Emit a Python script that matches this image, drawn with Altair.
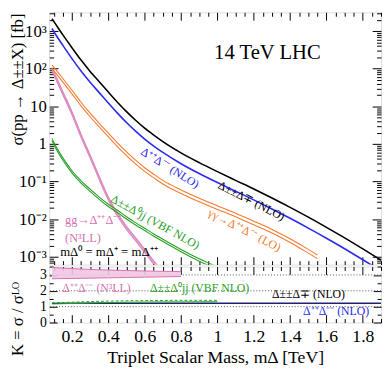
import altair as alt
import pandas as pd

# ---------------- data ----------------
mass = [0.09, 0.1, 0.15, 0.2, 0.25, 0.3, 0.35, 0.4, 0.45, 0.5, 0.55, 0.6, 0.65, 0.7,
        0.8, 0.9, 1.0, 1.1, 1.2, 1.3, 1.4, 1.5, 1.6, 1.7, 1.8, 1.9]
sigma_pm = [2138, 1820, 794, 363, 170, 85.1, 45.2, 24.0, 12.9, 7.24, 4.27, 2.63, 1.72, 1.16,
            0.582, 0.320, 0.184, 0.108, 0.0638, 0.0367, 0.0207, 0.0114, 0.0061, 0.0032,
            0.00164, 0.000822]
sigma_pp = [1175, 977, 417, 186, 87.1, 43.7, 23.2, 12.3, 6.61, 3.72, 2.19, 1.35, 0.881, 0.596,
            0.299, 0.164, 0.0944, 0.0556, 0.0327, 0.0188, 0.0106, 0.00582, 0.00313, 0.00164,
            0.000841, 0.000422]

mass_aa = [0.09, 0.1, 0.15, 0.2, 0.25, 0.3, 0.35, 0.4, 0.45, 0.5, 0.55, 0.6, 0.65, 0.7,
           0.8, 0.9, 1.0, 1.1, 1.2, 1.3, 1.4, 1.5, 1.55]
sigma_aa_hi = [126, 110, 55, 26.9, 12.9, 6.6, 3.55, 1.95, 1.07, 0.617, 0.372, 0.234, 0.157,
               0.108, 0.0603, 0.0363, 0.0229, 0.0145, 0.00891, 0.00537, 0.00302, 0.00158,
               0.00112]
sigma_aa_lo = [100, 88, 44, 21.5, 10.3, 5.3, 2.84, 1.56, 0.856, 0.494, 0.298, 0.187, 0.126,
               0.0866, 0.0482, 0.029, 0.0183, 0.0116, 0.0071, 0.0043, 0.00242, 0.00126,
               0.0009]

mass_vbf = [0.09, 0.1, 0.15, 0.2, 0.25, 0.3, 0.35, 0.4, 0.45, 0.5, 0.55, 0.6, 0.65, 0.7,
            0.8, 0.9, 1.0]
sigma_vbf_hi = [1.41, 1.12, 0.427, 0.195, 0.105, 0.063, 0.0389, 0.0251, 0.0174, 0.0117,
                0.00813, 0.00575, 0.00407, 0.00295, 0.00158, 0.00089, 0.000537]
sigma_vbf_lo = [1.23, 0.97, 0.37, 0.17, 0.091, 0.055, 0.0338, 0.0218, 0.0151, 0.0102,
                0.00707, 0.0050, 0.00354, 0.00257, 0.00137, 0.00077, 0.000467]

mass_gg = [0.09, 0.1, 0.15, 0.2, 0.25, 0.3, 0.35, 0.4, 0.45, 0.5, 0.55, 0.6, 0.65, 0.7,
           0.75, 0.8]
sigma_gg_hi = [107, 85, 25.1, 7.4, 1.86, 0.524, 0.141, 0.0398, 0.0151, 0.0066, 0.0033,
               0.00162, 0.0008, 0.0004, 0.00021, 0.000112]
sigma_gg_lo = [85, 67.5, 19.9, 5.9, 1.48, 0.417, 0.112, 0.0316, 0.012, 0.00525, 0.00263,
               0.00129, 0.00063, 0.000316, 0.000166, 0.000089]

k_mass_gg = [0.09, 0.2, 0.3, 0.4, 0.5, 0.6, 0.7, 0.8]
k_gg_lo = [2.76, 2.78, 2.80, 2.82, 2.84, 2.86, 2.88, 2.90]
k_gg_hi = [3.47, 3.40, 3.35, 3.31, 3.28, 3.25, 3.23, 3.21]
k_mass_vbf = [0.09, 0.2, 0.3, 0.4, 0.5, 0.6, 0.7, 0.8, 0.9, 1.0]
k_vbf_lo = [1.17, 1.20, 1.23, 1.26, 1.28, 1.29, 1.30, 1.30, 1.31, 1.31]
k_vbf_hi = [1.24, 1.28, 1.32, 1.35, 1.37, 1.38, 1.39, 1.40, 1.40, 1.40]
k_mass = [0.09, 0.2, 0.4, 0.6, 0.8, 1.0, 1.2, 1.4, 1.6, 1.8, 1.9]
k_pp_lo = [1.16, 1.17, 1.17, 1.17, 1.17, 1.17, 1.17, 1.17, 1.17, 1.17, 1.17]
k_pp_hi = [1.23, 1.24, 1.24, 1.24, 1.24, 1.24, 1.24, 1.24, 1.24, 1.24, 1.24]
k_pm = [1.21, 1.22, 1.22, 1.22, 1.22, 1.22, 1.22, 1.22, 1.22, 1.22, 1.22]
k_ref = [1, 2, 3]

# annotation anchors (data units)
top_labels = [
    # text, mass, sigma, colour, size, angle, align
    ("14 TeV LHC", 1.275, 253, "black", 21, 0, "center"),
    ("Δ±±Δ∓ (NLO)", 1.188, 0.031, "black", 12, 27, "center"),
    ("Δ⁺⁺Δ⁻⁻ (NLO)", 0.74, 0.233, "blue", 12, 32, "center"),
    ("γγ→Δ⁺⁺Δ⁻⁻ (LO)", 1.15, 0.0052, "orange", 12, 27, "center"),
    ("Δ±±Δ⁰jj (VBF NLO)", 0.659, 0.0085, "green", 12, 29, "center"),
    ("gg→Δ⁺⁺Δ⁻⁻", 0.162, 0.0093, "pink", 12.5, 0, "left"),
    ("(N³LL)", 0.162, 0.00316, "pink", 12.5, 0, "left"),
    ("mΔ⁰ = mΔ⁺ = mΔ⁺⁺", 0.135, 0.00136, "black", 13, 0, "left"),
]
bottom_labels = [
    ("Δ⁺⁺Δ⁻⁻ (N³LL)", 0.335, 2.2, "pink"),
    ("Δ±±Δ⁰jj (VBF NLO)", 0.902, 2.16, "green"),
    ("Δ±±Δ∓ (NLO)", 1.501, 1.78, "black"),
    ("Δ⁺⁺Δ⁻⁻ (NLO)", 1.653, 0.72, "blue"),
]

# ---------------- styling ----------------
FONT = "Liberation Serif"
COL = {"black": "#000000", "blue": "#2a2af2", "orange": "#f57a2e",
       "green": "#26a026", "pink": "#d670b0"}
W, H1, H2 = 338, 257, 57
XDOM = [0.075, 1.9]
YDOM = [10 ** -3.205, 10 ** 3.5]
KDOM = [0, 3.53]

xsc = alt.Scale(domain=XDOM, nice=False, zero=False)
ysc = alt.Scale(type="log", domain=YDOM, nice=False)
ksc = alt.Scale(domain=KDOM, nice=False, zero=False)

x_major = [0.2, 0.4, 0.6, 0.8, 1.0, 1.2, 1.4, 1.6, 1.8]
x_minor = [round(0.05 * i, 2) for i in range(2, 39) if i % 4 != 0]
y_major = [0.001, 0.01, 0.1, 1, 10, 100, 1000]
y_minor = [k * 10 ** e for e in range(-4, 4) for k in range(2, 10)
           if YDOM[0] <= k * 10 ** e <= YDOM[1]]
k_major = [0, 1, 2, 3]
k_minor = [0.5, 1.5, 2.5, 3.5]

def tick_axis(orient, offset, values, size):
    return alt.Axis(orient=orient, offset=offset, values=values, tickSize=size, ticks=True,
                    labels=False, domain=False, grid=False, title=None,
                    tickColor="black", tickWidth=1)

def carrier(xaxis, yaxis, yscale):
    df = pd.DataFrame({"m": [1.0], "v": [1.0]})
    return alt.Chart(df).mark_point(opacity=0).encode(
        x=alt.X("m:Q", scale=xsc, axis=xaxis),
        y=alt.Y("v:Q", scale=yscale, axis=yaxis))

def line(xs, ys, color, width, yscale, dash=None):
    df = pd.DataFrame({"m": xs, "v": ys})
    kw = dict(color=color, strokeWidth=width, clip=True, interpolate="monotone")
    if dash:
        kw["strokeDash"] = dash
    return alt.Chart(df).mark_line(**kw).encode(
        x=alt.X("m:Q", scale=xsc, axis=None),
        y=alt.Y("v:Q", scale=yscale, axis=None))

def band(xs, lo, hi, color, opacity, yscale):
    df = pd.DataFrame({"m": xs, "lo": lo, "hi": hi})
    return alt.Chart(df).mark_area(color=color, opacity=opacity, clip=True,
                                   interpolate="monotone").encode(
        x=alt.X("m:Q", scale=xsc, axis=None),
        y=alt.Y("lo:Q", scale=yscale, axis=None),
        y2="hi:Q")

def text(t, m, v, color, size, angle, align, yscale):
    df = pd.DataFrame({"m": [m], "v": [v], "t": [t]})
    kw = dict(font=FONT, fontSize=size, color=color, align=align, baseline="middle")
    if angle:
        kw["angle"] = angle
    return alt.Chart(df).mark_text(**kw).encode(
        x=alt.X("m:Q", scale=xsc, axis=None),
        y=alt.Y("v:Q", scale=yscale, axis=None),
        text="t:N")

lab_expr = ("datum.value > 500 ? '10³' : datum.value > 50 ? '10²' : datum.value > 5 ? '10' : "
            "datum.value > 0.5 ? '1' : datum.value > 0.05 ? '10⁻¹' : "
            "datum.value > 0.005 ? '10⁻²' : '10⁻³'")

ylab_top = alt.Axis(orient="left", values=y_major, ticks=False, tickSize=0, domain=False,
                    grid=False, labelExpr=lab_expr, labelFont=FONT, labelFontSize=17,
                    labelColor="black", labelPadding=3,
                    title="σ(pp → Δ±±X) [fb]", titleFont=FONT, titleFontSize=17,
                    titleFontWeight="normal", titleColor="black", titleAngle=270,
                    titleAlign="center", titleBaseline="bottom", titleX=-23, titleY=68)

top_layers = [
    band(mass_gg, sigma_gg_lo, sigma_gg_hi, "#e29ccb", 1, ysc),
    line(mass_gg, sigma_gg_lo, COL["pink"], 0.8, ysc),
    line(mass_gg, sigma_gg_hi, COL["pink"], 0.8, ysc),
    line(mass_vbf, sigma_vbf_lo, COL["green"], 1.1, ysc),
    line(mass_vbf, sigma_vbf_hi, COL["green"], 1.1, ysc),
    line(mass_aa, sigma_aa_lo, COL["orange"], 1.1, ysc),
    line(mass_aa, sigma_aa_hi, COL["orange"], 1.1, ysc),
    line(mass, sigma_pp, COL["blue"], 1.6, ysc),
    line(mass, sigma_pm, COL["black"], 1.6, ysc),
]
for t, m, v, c, s, a, al in top_labels:
    top_layers.append(text(t, m, v, COL[c], s, a, al, ysc))
top_layers += [
    carrier(tick_axis("top", -H1, x_major, 8), ylab_top, ysc),
    carrier(tick_axis("top", -H1, x_minor, 4), tick_axis("right", -W, y_major, 9), ysc),
    carrier(tick_axis("bottom", -H1, x_major, 8), tick_axis("right", -W, y_minor, 4.5), ysc),
    carrier(tick_axis("bottom", -H1, x_minor, 4), tick_axis("left", -W, y_major, 9), ysc),
    carrier(None, tick_axis("left", -W, y_minor, 4.5), ysc),
]
top = alt.layer(*top_layers).properties(width=W, height=H1).resolve_axis(
    x="independent", y="independent")

xlab_bot = alt.Axis(orient="bottom", values=x_major, ticks=False, tickSize=0, domain=False,
                    grid=False, format="~g", labelFont=FONT, labelFontSize=18,
                    labelColor="black", labelPadding=5,
                    title="Triplet Scalar Mass, mΔ [TeV]", titleFont=FONT, titleFontSize=18,
                    titleFontWeight="normal", titleColor="black", titlePadding=4)
ylab_bot = alt.Axis(orient="left", values=k_major, ticks=False, tickSize=0, domain=False,
                    grid=False, labelFont=FONT, labelFontSize=14, labelColor="black",
                    labelPadding=3, title="K = σ / σᴸᴼ", titleFont=FONT, titleFontSize=17,
                    titleFontWeight="normal", titleColor="black", titleAngle=270,
                    titleAlign="center", titleBaseline="bottom", titleX=-23, titleY=53)

ref_df = pd.DataFrame({"k": k_ref})
bot_layers = [
    alt.Chart(ref_df).mark_rule(color="#555555", strokeWidth=1, strokeDash=[1, 2]).encode(
        y=alt.Y("k:Q", scale=ksc, axis=None)),
    band(k_mass_gg, k_gg_lo, k_gg_hi, "#f0c6e1", 0.9, ksc),
    line(k_mass_gg, k_gg_lo, COL["pink"], 1, ksc),
    line(k_mass_gg, k_gg_hi, COL["pink"], 1, ksc),
    band(k_mass, k_pp_lo, k_pp_hi, "#3a3ac8", 0.95, ksc),
    line(k_mass, k_pm, "#101040", 1, ksc),
    line(k_mass_vbf, k_vbf_lo, COL["green"], 1, ksc),
    line(k_mass_vbf, k_vbf_hi, COL["green"], 1, ksc, dash=[3, 2]),
]
for t, m, v, c in bottom_labels:
    bot_layers.append(text(t, m, v, COL[c], 12, 0, "center", ksc))
bot_layers += [
    carrier(xlab_bot, ylab_bot, ksc),
    carrier(tick_axis("top", -H2, x_major, 8), tick_axis("right", -W, k_major, 8), ksc),
    carrier(tick_axis("top", -H2, x_minor, 4), tick_axis("right", -W, k_minor, 4), ksc),
    carrier(tick_axis("bottom", -H2, x_major, 8), tick_axis("left", -W, k_major, 8), ksc),
    carrier(tick_axis("bottom", -H2, x_minor, 4), tick_axis("left", -W, k_minor, 4), ksc),
]
bottom = alt.layer(*bot_layers).properties(width=W, height=H2).resolve_axis(
    x="independent", y="independent")

chart = alt.vconcat(top, bottom, spacing=0).properties(padding=0).configure_view(
    stroke="black", strokeWidth=1).configure(font=FONT, background="white")

chart.save("out.html", embed_options={"renderer": "svg", "actions": False})
